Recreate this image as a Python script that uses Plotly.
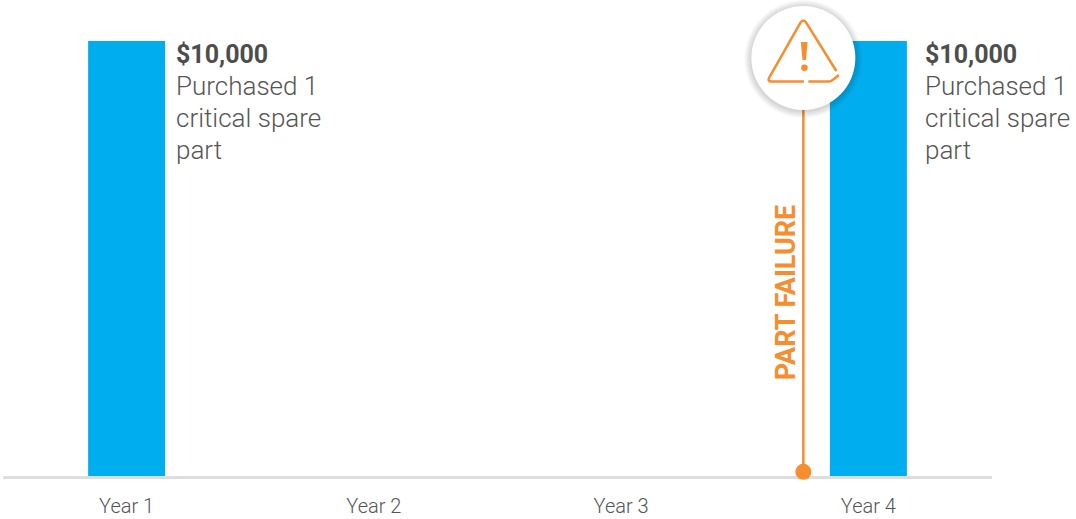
import plotly.graph_objects as go

# Spend per year, with the narrative attached to each purchase
categories = ["Year 1", "Year 2", "Year 3", "Year 4"]
spend = [10000, 0, 0, 10000]
purchase_lines = ["Purchased 1", "critical spare", "part"]
label_offsets_px = [47, 0, 0, 55]   # gap from bar centre to its note
failure_label = "PART FAILURE"
failure_position = 2.737   # between Year 3 and Year 4, on the category scale
failure_marker_value = 95
alert_value = 9610

BLUE = "#00AEEF"
ORANGE = "#F68D2E"
TEXT = "#555555"
FONT = "Roboto"

Y_MAX = 10943
positions = list(range(len(categories)))

fig = go.Figure()

fig.add_trace(go.Bar(
    x=positions, y=spend, width=0.3115,
    marker=dict(color=BLUE, line=dict(width=0)),
    hoverinfo="skip",
))

# Failure stem, running from the axis up behind the alert badge
fig.add_trace(go.Scatter(
    x=[failure_position, failure_position],
    y=[failure_marker_value, alert_value],
    mode="lines",
    line=dict(color=ORANGE, width=2.5),
    hoverinfo="skip",
))
fig.add_trace(go.Scatter(
    x=[failure_position], y=[failure_marker_value],
    mode="markers",
    marker=dict(color=ORANGE, size=16, line=dict(width=0)),
    cliponaxis=False,
    hoverinfo="skip",
))

annotations = []
for pos, value, offset in zip(positions, spend, label_offsets_px):
    if not value:
        continue
    annotations.append(dict(
        x=pos, xshift=offset, y=value, yshift=-13, xref="x", yref="y",
        text=f"<b>${value:,}</b>", showarrow=False,
        xanchor="left", yanchor="middle",
        font=dict(family=FONT, size=25, color="#4D4D4D"),
    ))
    for i, line in enumerate(purchase_lines):
        annotations.append(dict(
            x=pos, xshift=offset, y=value, yshift=-45 - 32 * i, xref="x", yref="y",
            text=line, showarrow=False,
            xanchor="left", yanchor="middle",
            font=dict(family=FONT, size=26, color=TEXT, weight=300),
        ))

annotations.append(dict(
    x=failure_position, xshift=-17, y=4210, xref="x", yref="y",
    text=f"<b>{failure_label}</b>", textangle=-90, showarrow=False,
    xanchor="center", yanchor="middle",
    font=dict(family=FONT, size=27, color=ORANGE),
))


def badge_shape(**kwargs):
    return dict(
        xref="x", yref="y", xsizemode="pixel", ysizemode="pixel",
        xanchor=failure_position, yanchor=alert_value, layer="above", **kwargs
    )


shapes = []

# Soft drop shadow built up from faint concentric discs
for r in (59, 58, 57, 56, 55, 54, 53):
    shapes.append(badge_shape(
        type="circle", x0=-r, x1=r, y0=-r - 1, y1=r - 1,
        fillcolor="rgba(0,0,0,0.025)", line=dict(width=0),
    ))
shapes.append(badge_shape(
    type="circle", x0=-52, x1=52, y0=-52, y1=52,
    fillcolor="white", line=dict(width=0),
))

# Warning triangle, open at the bottom edge and lower right corner
triangle = (
    "M 0.5 -23.5 L -31.5 -23.5 Q -36.5 -23.5 -34 -19.5 "
    "L -3 35 Q 0 40 3 35 L 33 -13"
)
triangle_tail = "M 5 -23.5 L 26 -23.5 Q 28 -23.5 30 -21.5 L 35.5 -17"
for path in (triangle, triangle_tail):
    shapes.append(badge_shape(
        type="path", path=path,
        line=dict(color=ORANGE, width=2.5), fillcolor="rgba(0,0,0,0)",
    ))

# Exclamation mark
shapes.append(badge_shape(
    type="path", path="M -2.5 16 L 4.2 16 L 2.6 -2 L -0.9 -2 Z",
    fillcolor=ORANGE, line=dict(width=0),
))
shapes.append(badge_shape(
    type="circle", x0=-2.2, x1=4.4, y0=-13, y1=-6.4,
    fillcolor=ORANGE, line=dict(width=0),
))

fig.update_layout(
    width=1076, height=519,
    margin=dict(l=3, r=84, t=0, b=42.5, pad=0),
    paper_bgcolor="white", plot_bgcolor="white",
    showlegend=False,
    shapes=shapes,
    annotations=annotations,
    font=dict(family=FONT),
    xaxis=dict(
        range=[-0.5, 3.5],
        tickmode="array", tickvals=positions, ticktext=categories,
        tickfont=dict(family=FONT, size=20, color=TEXT, weight=300),
        ticks="", ticklabelstandoff=10,
        showgrid=False, zeroline=False, layer="below traces",
        showline=True, linecolor="#DDDDDD", linewidth=2.5,
    ),
    yaxis=dict(range=[0, Y_MAX], visible=False),
)

fig.write_html("out.html", config=dict(displayModeBar=False))
